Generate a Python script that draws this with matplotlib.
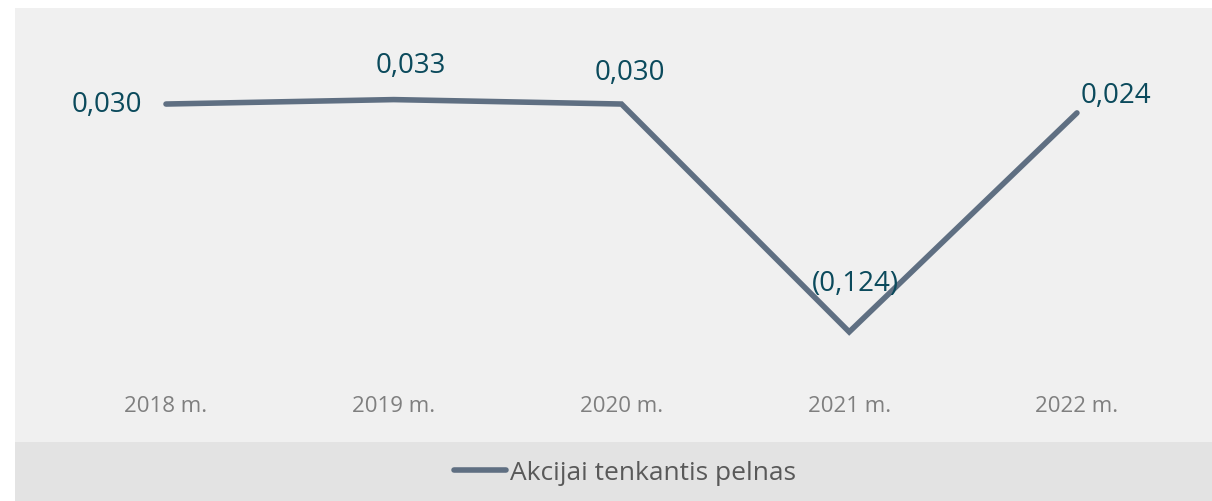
import matplotlib.pyplot as plt
from matplotlib.patches import Rectangle

# data
years = ['2018 m.', '2019 m.', '2020 m.', '2021 m.', '2022 m.']
eps = [0.030, 0.033, 0.030, -0.124, 0.024]
labels = ['0,030', '0,033', '0,030', '(0,124)', '0,024']
series_name = 'Akcijai tenkantis pelnas'

plt.rcParams['font.family'] = ['Open Sans', 'DejaVu Sans']

W, H = 1212, 502
fig = plt.figure(figsize=(W / 100, H / 100), dpi=100)
fig.patch.set_facecolor('white')

# plot panel and legend band (pixel positions from the top-left)
left, top, bottom, band_bottom = 15, 9, 443, 502
fig.add_artist(Rectangle((left / W, 1 - bottom / H), 1 - left / W, (bottom - top) / H,
                         transform=fig.transFigure, facecolor='#f0f0f0', edgecolor='none', zorder=0))
fig.add_artist(Rectangle((left / W, 0), 1 - left / W, (band_bottom - bottom) / H,
                         transform=fig.transFigure, facecolor='#e3e3e3', edgecolor='none', zorder=0))

ax = fig.add_axes([left / W, 1 - bottom / H, 1 - left / W, (bottom - top) / H])
ax.set_facecolor('none')
x = range(len(years))
line_color = '#5f6f82'
ax.plot(x, eps, color=line_color, lw=4, solid_capstyle='round', solid_joinstyle='miter',
        label=series_name)
ax.set_xlim(-0.663, 4.593)
ax.set_ylim(-0.1984, 0.0949)
ax.axis('off')

# data labels (offsets in pixels from the point)
txt_color = '#0b4a5c'
fs = 20
offsets = [(-24, 0, 'right'),
           (17, 35, 'center'),
           (8, 32, 'center'),
           (6, 49, 'center'),
           (4, 18, 'left')]
for xi, v, lab, (dx, dy, ha) in zip(x, eps, labels, offsets):
    ax.annotate(lab, (xi, v), xytext=(dx * 0.72, dy * 0.72), textcoords='offset points',
                ha=ha, va='center', fontsize=fs, color=txt_color)

# category labels inside the panel
for xi, yr in zip(x, years):
    ax.text(xi, -0.1740, yr, ha='center', va='center', fontsize=16, color='#7f7f7f')

leg = fig.legend(loc='center', bbox_to_anchor=(625 / W, 1 - 474 / H),
                 frameon=False, fontsize=19, handlelength=2.0, handletextpad=0.15,
                 labelcolor='#595959')
for h in leg.get_lines():
    h.set_solid_capstyle('round')

fig.savefig('out.png', dpi=100)
